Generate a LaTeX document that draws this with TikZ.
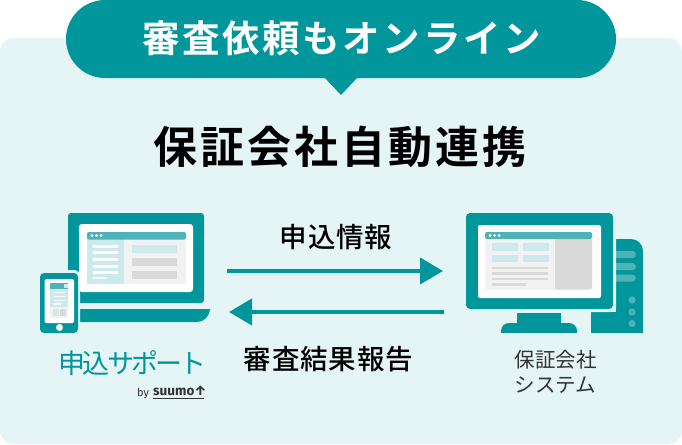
\documentclass[tikz,border=0pt]{standalone}
\usepackage{fontspec}
\setmainfont{Noto Sans CJK JP}
\newfontfamily\jpb{Noto Sans CJK JP Bold}
\newfontfamily\jpm{Noto Sans CJK JP Medium}
\newfontfamily\jpbs[LetterSpace=7]{Noto Sans CJK JP Bold}
\newfontfamily\jpms[LetterSpace=3]{Noto Sans CJK JP Medium}
\newfontfamily\jplogo[LetterSpace=-11]{Noto Sans CJK JP}
\newfontfamily\latn{Fira Sans}
\usetikzlibrary{arrows.meta}
\definecolor{teal1}{HTML}{00969B}
\definecolor{bgl}{HTML}{E5F4F5}
\definecolor{bar}{HTML}{4DB3B7}
\definecolor{pale}{HTML}{CCE9EB}
\definecolor{grayA}{HTML}{D9D9D9}
\definecolor{grayB}{HTML}{F2F2F2}
\definecolor{ink}{HTML}{333333}
\tikzset{
  flow/.style={draw=teal1,line width=4pt,-{Triangle[length=23pt,width=26pt]}},
  lbl/.style={inner sep=0pt,text=black,font=\fontsize{27.5}{32}\selectfont\jpms},
}
\begin{document}
\begin{tikzpicture}[x=1pt,y=-1pt]
\useasboundingbox (0,0) rectangle (682,444);
% background panel
\fill[bgl,rounded corners=13pt] (0,38) rectangle (682,444);
% banner
\fill[teal1] (323,76) -- (341,95) -- (359,76) -- cycle;
\fill[teal1,rounded corners=39pt] (66,0) rectangle (616,78);
\node[inner sep=0pt,text=white,font=\fontsize{37.5}{42}\selectfont\jpbs] (banner) at (341.5,38) {審査依頼もオンライン};
\node[inner sep=0pt,text=black,font=\fontsize{44}{48}\selectfont\jpbs] (title) at (340,147) {保証会社自動連携};
% laptop
\fill[teal1,rounded corners=3pt] (68,213) rectangle (204,303);
\fill[white,rounded corners=3pt] (79,224) rectangle (193,292);
\fill[grayB,rounded corners=2pt] (87,232) rectangle (186,284);
\fill[pale] (87,239) rectangle (124,284);
\fill[bar,rounded corners=2pt] (87,232) rectangle (186,239.5);
\foreach \x in {92,96.5,101}{\fill[white] (\x,235.5) circle (1.5);}
\foreach \y in {244.5,251,258,264.5,271}{\fill[white] (93,\y) rectangle (118,\y+3);}
\fill[white] (93,276.5) rectangle (106,279);
\fill[pale] (132,244.5) rectangle (177,252.5);
\fill[grayA] (132,257.5) rectangle (177,265.5);
\fill[grayA] (132,270.5) rectangle (177,278.5);
\fill[teal1] (80,309) -- (210,309) .. controls (209,317) and (204,322) .. (197,322) -- (80,322) -- cycle;
% phone
\fill[bgl,rounded corners=6pt] (38,270) rectangle (80,335);
\fill[teal1,rounded corners=4pt] (40,273) rectangle (78,333);
\fill[white,rounded corners=1.5pt] (44.5,279) rectangle (74,323);
\fill[grayB] (50,283) rectangle (68,318);
\fill[pale] (50,289) rectangle (68,307);
\fill[bar] (50,283) rectangle (68,289);
\fill[pale] (63.5,284) rectangle (67.5,288);
\foreach \y in {291.5,295.5,299.5}{\fill[white] (54,\y) rectangle (65,\y+1.5);}
\fill[white] (54,303) rectangle (61,304.5);
\fill[pale] (53,309) rectangle (58.5,316);
\fill[grayA] (60,309) rectangle (66,316);
\fill[white] (59.5,327.5) circle (3.5);
% logo text
\node[inner sep=0pt,text=teal1,font=\fontsize{27}{30}\selectfont\jplogo] (logo) at (132.5,363) {申込サポート};
\node[inner sep=0pt,text=ink,font=\fontsize{11}{12}\selectfont\latn,anchor=base west] (by) at (137,396) {by};
\node[inner sep=0pt,text=ink,font=\fontsize{13.5}{15}\selectfont\latn\bfseries,anchor=base west] (suumo) at (153,395) {suumo↑};
\fill[ink] (153,397.5) rectangle (204,398.5);
% desktop tower
\fill[teal1,rounded corners=12pt] (616,239) -- (643,239) -- (643,345) -- (616,345) -- cycle;
\fill[teal1] (616,239) rectangle (628,333);
\fill[bgl] (610,333) rectangle (650,350);
\fill[teal1] (591,312) rectangle (616,333);
\fill[bar,rounded corners=3.5pt] (612,251) rectangle (636,258);
\fill[bar,rounded corners=3.5pt] (612,263) rectangle (636,270);
\fill[bar,rounded corners=3.5pt] (612,274.5) rectangle (636,281.5);
\foreach \y in {300,312,323.5}{\fill[bar] (632,\y) circle (3.6);}
% desktop monitor
\fill[bgl,rounded corners=5pt] (464,211) rectangle (616,312);
\fill[teal1,rounded corners=4pt] (466,213) rectangle (613,309);
\fill[white,rounded corners=2pt] (478,225) rectangle (601,298);
\fill[grayB,rounded corners=2pt] (485,232) rectangle (592,289.5);
\fill[grayA,rounded corners=2pt] (555,238) rectangle (592,289.5);
\fill[bar,rounded corners=2pt] (485,232) rectangle (592,239);
\foreach \x in {490,494.5,499}{\fill[white] (\x,235.5) circle (1.5);}
\foreach \x in {492,523}{\fill[pale] (\x,243) rectangle (\x+25.5,251); \fill[pale] (\x,254.5) rectangle (\x+25.5,262);}
\foreach \y in {266.5,272,277.5}{\fill[grayA] (492,\y) rectangle (548,\y+2.5);}
\fill[grayA] (492,283) rectangle (526,285.5);
% stand
\fill[teal1] (517,313) rectangle (561,325);
\fill[teal1,rounded corners=8pt] (501,345) -- (501,323) -- (577,323) -- (577,345) -- cycle;
\fill[bgl] (495,333) rectangle (585,350);
% caption
\node[inner sep=0pt,text=ink,font=\fontsize{20.5}{24.5}\selectfont,align=center] (sys) at (555.5,372) {保証会社\\システム};
% arrows
\coordinate (a1) at (227,271); \coordinate (a2) at (443,271);
\coordinate (b1) at (444,312); \coordinate (b2) at (229,312);
\draw[flow] (a1) -- (a2);
\draw[flow] (b1) -- (b2);
\node[lbl] (l1) at (336,237) {申込情報};
\node[lbl] (l2) at (328.5,359) {審査結果報告};
\end{tikzpicture}
\end{document}
